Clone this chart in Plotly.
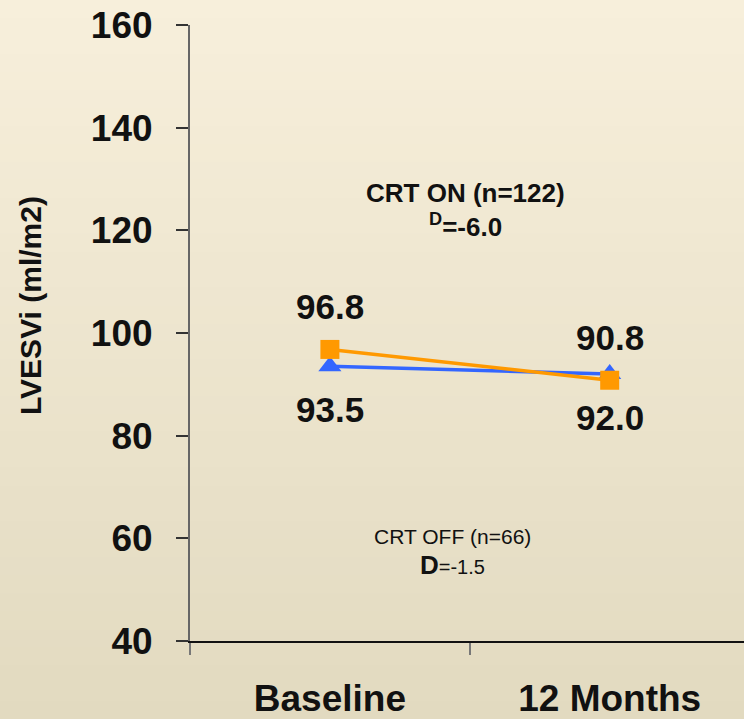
import plotly.graph_objects as go

categories = ["Baseline", "12 Months"]
crt_on_values = [96.8, 90.8]     # orange squares
crt_off_values = [93.5, 92.0]    # blue triangles
y_ticks = [40, 60, 80, 100, 120, 140, 160]
y_title = "LVESVi (ml/m2)"

ORANGE = "#FF9900"
BLUE = "#3366FF"
FONT = "Liberation Sans, Arial, sans-serif"

W, H = 744, 719
ML, MR, MT, MB = 190, 0, 25, 78
PW, PH = W - ML - MR, H - MT - MB


def px(x, y):
    """pixel position -> paper coordinates"""
    return (x - ML) / PW, (H - MB - y) / PH


fig = go.Figure()

fig.add_trace(go.Scatter(
    x=categories, y=crt_off_values, mode="lines+markers",
    line=dict(color=BLUE, width=3.5),
    marker=dict(symbol="triangle-up", size=20, color=BLUE),
    showlegend=False, cliponaxis=False))
fig.add_trace(go.Scatter(
    x=categories, y=crt_on_values, mode="lines+markers",
    line=dict(color=ORANGE, width=3.5),
    marker=dict(symbol="square", size=19, color=ORANGE),
    showlegend=False, cliponaxis=False))

annotations = []
for c, v in zip(categories, crt_on_values):
    annotations.append(dict(x=c, y=v, xref="x", yref="y", text=f"<b>{v:.1f}</b>",
                            showarrow=False, yshift=43, yanchor="middle",
                            font=dict(family=FONT, size=35, color="#111111")))
for c, v in zip(categories, crt_off_values):
    annotations.append(dict(x=c, y=v, xref="x", yref="y", text=f"<b>{v:.1f}</b>",
                            showarrow=False, yshift=-43, yanchor="middle",
                            font=dict(family=FONT, size=35, color="#111111")))

text_items = [
    (465, 193, "<b>CRT ON (n=122)</b>", 26, 0),
    (465, 225, "<b><sup>D</sup>=-6.0</b>", 26, 0),
    (452, 536, "CRT OFF (n=66)", 21, 0),
    (452, 565, "<b><span style='font-size:26px'>D</span></b>=-1.5", 20, 0),
    (30, 306, f"<b>{y_title}</b>", 30, -90),
]
for x, y, t, s, ang in text_items:
    xp, yp = px(x, y)
    annotations.append(dict(x=xp, y=yp, xref="paper", yref="paper", text=t,
                            showarrow=False, textangle=ang,
                            xanchor="center", yanchor="middle",
                            font=dict(family=FONT, size=s, color="#111111")))

# background gradient bands
shapes = []
top = (247, 239, 219)
bot = (226, 218, 192)
n = 40
for i in range(n):
    t = i / (n - 1)
    col = tuple(round(top[k] + (bot[k] - top[k]) * t) for k in range(3))
    y1 = i * H / n
    y0 = (i + 1) * H / n + 1
    _, p1 = px(0, y1)
    _, p0 = px(0, y0)
    shapes.append(dict(type="rect", xref="paper", yref="paper",
                       x0=px(-5, 0)[0], x1=px(W + 5, 0)[0], y0=p0, y1=p1,
                       fillcolor="rgb(%d,%d,%d)" % col, line=dict(width=0),
                       layer="below"))

fig.update_layout(
    width=W, height=H,
    margin=dict(l=ML, r=MR, t=MT, b=MB),
    paper_bgcolor="rgb(236,228,205)",
    plot_bgcolor="rgba(0,0,0,0)",
    font=dict(family=FONT, color="#111111"),
    annotations=annotations,
    shapes=shapes,
    xaxis=dict(
        type="category", range=[-0.5, 1.48], tickson="boundaries",
        showline=True, linecolor="#111111", linewidth=2,
        ticks="outside", ticklen=12, tickwidth=2, tickcolor="#777777",
        showgrid=False, zeroline=False,
        tickvals=categories, ticktext=[f"<b>{c}</b>" for c in categories],
        tickfont=dict(family=FONT, size=37, color="#111111"),
        ticklabelstandoff=24,
    ),
    yaxis=dict(
        range=[40, 160], tickvals=y_ticks,
        ticktext=[f"<b>{v}</b>" for v in y_ticks],
        showline=True, linecolor="#666666", linewidth=2,
        ticks="outside", ticklen=12, tickwidth=2, tickcolor="#333333",
        showgrid=False, zeroline=False,
        tickfont=dict(family=FONT, size=37, color="#111111"),
        ticklabelstandoff=16,
    ),
)

fig.write_html("out.html", config={"displayModeBar": False},
               post_script="document.body.style.margin='0';")
